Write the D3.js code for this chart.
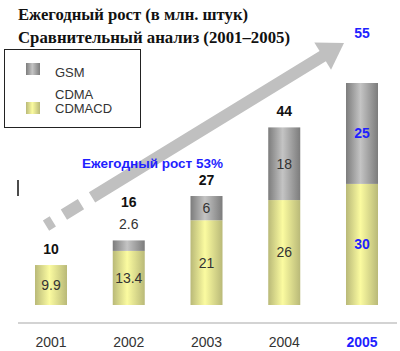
<!DOCTYPE html>
<html>
<head>
<meta charset="utf-8">
<script src="https://cdn.jsdelivr.net/npm/d3@7"></script>
<style>
  body { margin: 0; background: #fff; }
  svg { display: block; }
</style>
</head>
<body>
<div id="chart"></div>
<script>
// chart values
var years = ['2001', '2002', '2003', '2004', '2005'];
var cdma = [9.9, 13.4, 21, 26, 30];
var gsm = [0, 2.6, 6, 18, 25];
var totals = [10, 16, 27, 44, 55];
var titleLines = ['Ежегодный рост (в млн. штук)', 'Сравнительный анализ (2001–2005)'];
var legendLabels = [['GSM'], ['CDMA', 'CDMACD']];
var growthLabel = 'Ежегодный рост 53%';

var W = 400, H = 351;
var BLUE = '#1f1fff';
var svg = d3.select('#chart').append('svg').attr('width', W).attr('height', H)
  .style('font-family', '"Liberation Sans", Arial, sans-serif');

var defs = svg.append('defs');
function cyl(id, edge, mid) {
  var g = defs.append('linearGradient').attr('id', id).attr('x1', 0).attr('x2', 1).attr('y1', 0).attr('y2', 0);
  g.append('stop').attr('offset', '0%').attr('stop-color', edge);
  g.append('stop').attr('offset', '45%').attr('stop-color', mid);
  g.append('stop').attr('offset', '100%').attr('stop-color', edge);
}
cyl('gGsm', '#7c7c7c', '#c4c4c4');
cyl('gCdma', '#b9b978', '#fbfba0');

var x = d3.scalePoint().domain(years).range([51, 362]);
var y = d3.scaleLinear().domain([0, 55]).range([305, 83]);
var bw = 32;

// title (widths matched to the original's wider serif face)
svg.selectAll('text.title').data(titleLines).enter().append('text')
  .attr('class', 'title')
  .attr('x', 18).attr('y', function (d, i) { return 20 + i * 23; })
  .attr('font-family', '"Liberation Serif", "Times New Roman", serif')
  .attr('font-weight', 'bold').attr('font-size', 16).attr('fill', '#111')
  .attr('textLength', function (d, i) { return i ? 272 : 230; })
  .attr('lengthAdjust', 'spacingAndGlyphs')
  .text(function (d) { return d; });

// legend
svg.append('rect').attr('x', 4.5).attr('y', 49.5).attr('width', 136).attr('height', 78)
  .attr('fill', '#fff').attr('stroke', '#222').attr('stroke-width', 1);
var lg = svg.selectAll('g.leg').data(legendLabels).enter().append('g').attr('class', 'leg');
lg.append('rect').attr('x', 26).attr('y', function (d, i) { return i ? 102 : 63; })
  .attr('width', 14).attr('height', 12)
  .attr('fill', function (d, i) { return i ? 'url(#gCdma)' : 'url(#gGsm)'; });
lg.each(function (d, i) {
  var g = d3.select(this);
  d.forEach(function (s, j) {
    var cy = i ? 94 + j * 14 : 72;
    g.append('text').attr('x', 55).attr('y', cy).attr('dy', '0.35em')
      .attr('font-size', 13).attr('fill', '#333').text(s);
  });
});

// growth arrow (dashed start, solid shaft, head)
var start = [x(years[0]) - 5, y(totals[0]) - 39];
var tip = [x(years[4]) - 18, y(totals[4]) - 40];
var dx = tip[0] - start[0], dy = tip[1] - start[1], len = Math.sqrt(dx * dx + dy * dy);
var ux = dx / len, uy = dy / len, px = -uy, py = ux;
var headL = 25, headW = 16;
var base = [tip[0] - ux * headL, tip[1] - uy * headL];
svg.append('line').attr('x1', start[0]).attr('y1', start[1]).attr('x2', base[0] + ux).attr('y2', base[1] + uy)
  .attr('stroke', '#c0c0c0').attr('stroke-width', 12)
  .attr('stroke-dasharray', '8,13,20,13,2000');
svg.append('path')
  .attr('d', d3.line()([tip, [base[0] + px * headW, base[1] + py * headW], [base[0] - px * headW, base[1] - py * headW]]) + 'Z')
  .attr('fill', '#c0c0c0');

// growth label
svg.append('text').attr('x', 82).attr('y', 163).attr('dy', '0.35em')
  .attr('font-size', 13.5).attr('font-weight', 'bold').attr('fill', BLUE).text(growthLabel);

// stray cursor mark
svg.append('line').attr('x1', 18).attr('x2', 18).attr('y1', 180).attr('y2', 196)
  .attr('stroke', '#111').attr('stroke-width', 1.5);

// bars
var bars = svg.selectAll('g.bar').data(years).enter().append('g').attr('class', 'bar');
bars.append('rect')
  .attr('x', function (d) { return x(d) - bw / 2; })
  .attr('y', function (d, i) { return y(cdma[i]); })
  .attr('width', bw)
  .attr('height', function (d, i) { return y(0) - y(cdma[i]); })
  .attr('fill', 'url(#gCdma)');
bars.filter(function (d, i) { return gsm[i] > 0; }).append('rect')
  .attr('x', function (d) { return x(d) - bw / 2; })
  .attr('y', function (d) { var i = years.indexOf(d); return y(cdma[i] + gsm[i]); })
  .attr('width', bw)
  .attr('height', function (d) { var i = years.indexOf(d); return y(cdma[i]) - y(cdma[i] + gsm[i]); })
  .attr('fill', 'url(#gGsm)');

// segment labels
years.forEach(function (yr, i) {
  var last = i === years.length - 1;
  var col = last ? BLUE : '#333';
  var fw = last ? 'bold' : 'normal';
  var top = y(cdma[i] + gsm[i]);
  svg.append('text').attr('x', x(yr)).attr('y', (y(0) + y(cdma[i])) / 2).attr('dy', '0.35em')
    .attr('text-anchor', 'middle').attr('font-size', 14).attr('font-weight', fw).attr('fill', col)
    .text(cdma[i]);
  var totalY = top - 16;
  if (gsm[i] > 0) {
    var segH = y(cdma[i]) - top;
    var gy = segH < 18 ? top - 16 : (y(cdma[i]) + top) / 2;
    if (segH < 18) totalY = top - 38;
    svg.append('text').attr('x', x(yr)).attr('y', gy).attr('dy', '0.35em')
      .attr('text-anchor', 'middle').attr('font-size', 14).attr('font-weight', fw).attr('fill', col)
      .text(gsm[i]);
  }
  if (last) totalY = tip[1] - 10;
  svg.append('text').attr('x', x(yr)).attr('y', totalY).attr('dy', '0.35em')
    .attr('text-anchor', 'middle').attr('font-size', 14).attr('font-weight', 'bold')
    .attr('fill', last ? BLUE : '#111').text(totals[i]);
});

// axis
svg.append('line').attr('x1', 18).attr('x2', 397).attr('y1', 323).attr('y2', 323)
  .attr('stroke', '#c4c4c4').attr('stroke-width', 1.5);
svg.selectAll('text.yr').data(years).enter().append('text').attr('class', 'yr')
  .attr('x', function (d) { return x(d); }).attr('y', 342).attr('dy', '0.35em')
  .attr('text-anchor', 'middle').attr('font-size', 14)
  .attr('font-weight', function (d, i) { return i === years.length - 1 ? 'bold' : 'normal'; })
  .attr('fill', function (d, i) { return i === years.length - 1 ? BLUE : '#333'; })
  .text(function (d) { return d; });
</script>
</body>
</html>
